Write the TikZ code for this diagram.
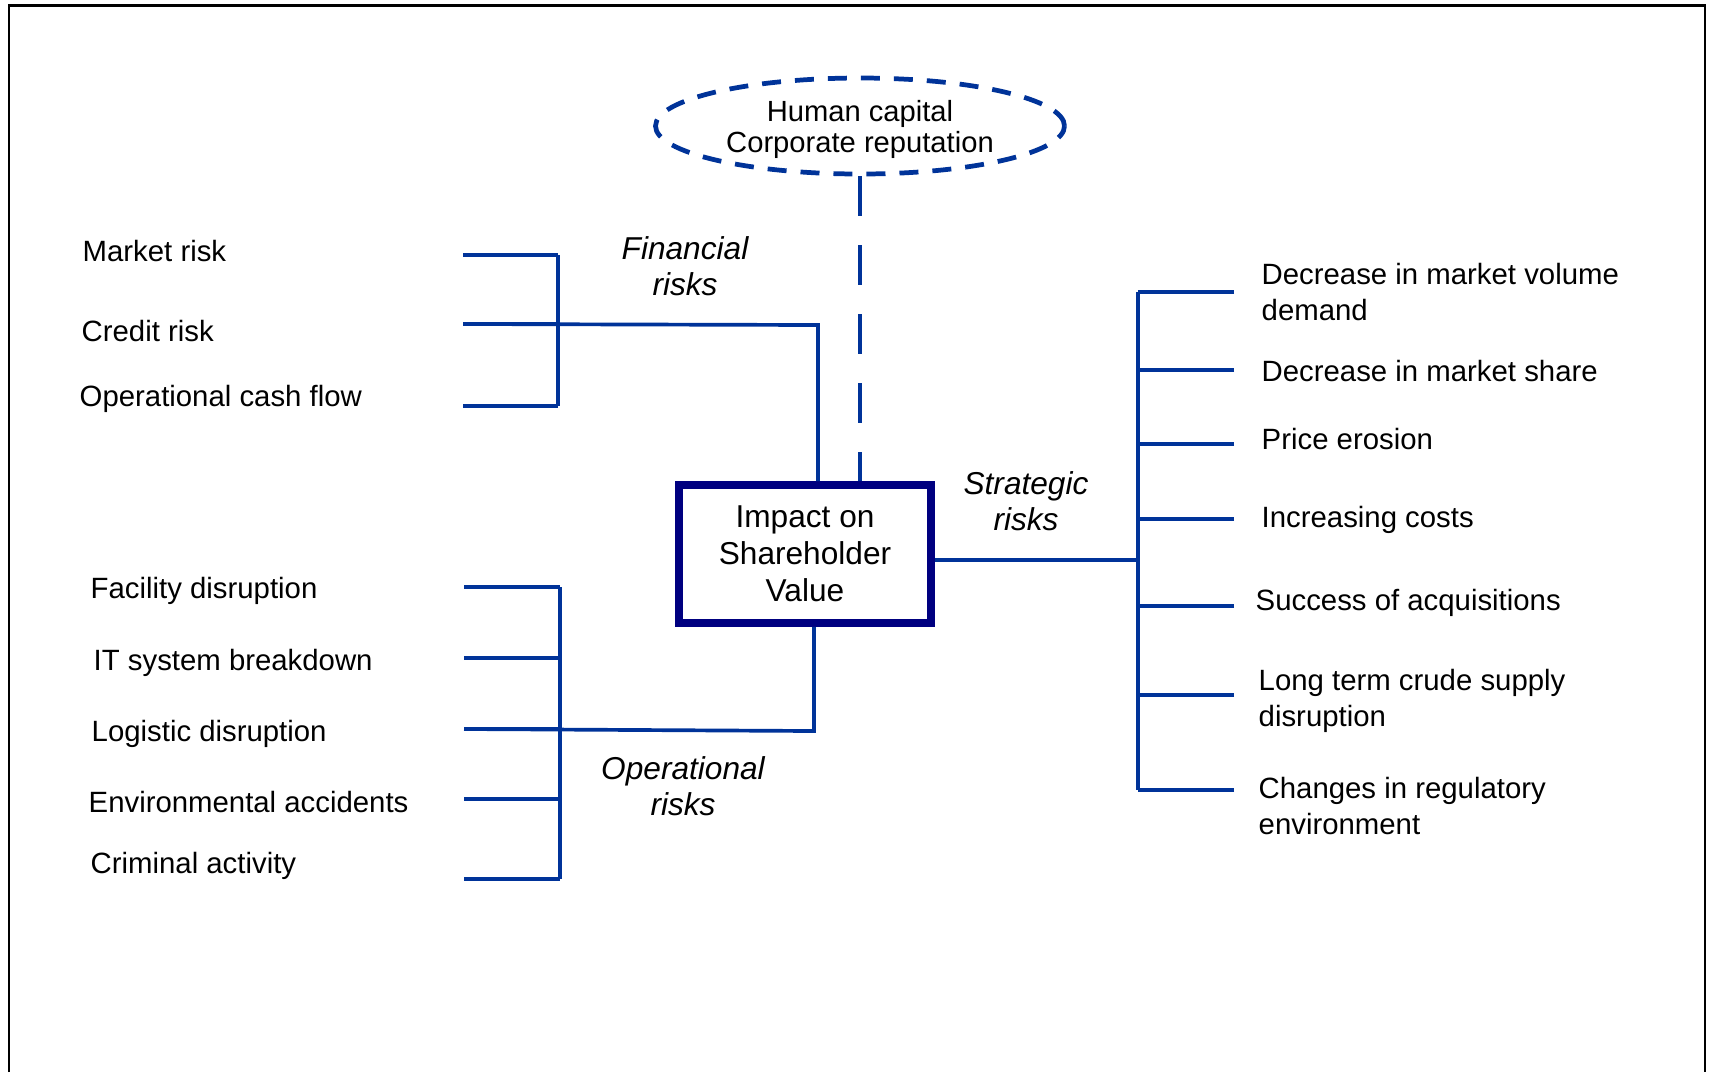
\documentclass[tikz,border=0pt]{standalone}
\usepackage{fontspec}
\setmainfont{Liberation Sans}
\usetikzlibrary{shapes.geometric}
\definecolor{riskblue}{RGB}{0,51,153}
\definecolor{valuenavy}{RGB}{0,0,128}

\begin{document}
\begin{tikzpicture}[x=0.1mm,y=-0.1mm,
  riskitem/.style={anchor=base west,inner sep=0pt,align=left,
    font=\fontsize{8.35}{10.2}\selectfont},
  riskgroup/.style={inner sep=0pt,align=center,
    font=\fontsize{9}{10.2}\selectfont\itshape},
  risklink/.style={draw=riskblue,line width=1.05pt}]
 \useasboundingbox (0,0) rectangle (1711,1072);
 \draw[line width=0.6pt] (9,1072) -- (9,5.5) -- (1705,5.5) -- (1705,1072);

 \node[draw=valuenavy,line width=2.2pt,minimum width=25.2mm,minimum height=13.8mm,
   align=center,font=\fontsize{9}{10.5}\selectfont] (value) at (805,554)
   {Impact on\\Shareholder\\Value};
 \node[ellipse,draw=riskblue,line width=1.35pt,dash pattern=on 1.9mm off 1.4mm,
   minimum width=40.9mm,minimum height=9.6mm,inner sep=0pt,align=center,
   text depth=0pt,font=\fontsize{8.3}{8.8}\selectfont] (soft) at (860,126)
   {Human capital\\Corporate reputation};
 \draw[risklink,line width=1.15pt,dash pattern=on 4mm off 2.9mm]
   (soft.south) -- (soft.south |- value.north);

 \coordinate (fin-top) at (558,255);
 \coordinate (fin-join) at (818,325);
 \foreach \n/\lx/\ly/\ty/\t in
  {mkt/82/261/255/Market risk, crd/81/341/324/Credit risk,
   ocf/79/406/406/Operational cash flow}
  {
    \node[riskitem] (\n) at (\lx,\ly) {\t};
    \coordinate (\n-tip) at (463,\ty);
    \draw[risklink] (\n-tip) -- (\n-tip -| fin-top);
  }
 \draw[risklink] (fin-top) -- (ocf-tip -| fin-top);
 \draw[risklink] (crd-tip) -- (fin-join) -- (fin-join |- value.north);
 \node[riskgroup] (fin) at (685,266) {Financial\\risks};

 \coordinate (ops-top) at (560,587);
 \coordinate (ops-join) at (814,731);
 \foreach \n/\lx/\ly/\ty/\t in
  {fac/90/598/587/Facility disruption, its/93/670/658/IT system breakdown,
   log/91/741/729/Logistic disruption, env/88/812/799/Environmental accidents,
   crm/90/873/879/Criminal activity}
  {
    \node[riskitem] (\n) at (\lx,\ly) {\t};
    \coordinate (\n-tip) at (464,\ty);
    \draw[risklink] (\n-tip) -- (\n-tip -| ops-top);
  }
 \draw[risklink] (ops-top) -- (crm-tip -| ops-top);
 \draw[risklink] (log-tip) -- (ops-join) -- (ops-join |- value.south);
 \node[riskgroup] (ops) at (683,786) {Operational\\risks};

 \coordinate (str-top) at (1138,292);
 \coordinate (str-join) at (1138,560);
 \foreach \n/\lx/\ly/\ty/\t in
  {vol/1261/320/292/Decrease in market volume\\demand,
   shr/1261/381/370/Decrease in market share,
   prc/1261/449/444/Price erosion,
   cst/1261/527/519/Increasing costs,
   acq/1255/610/606/Success of acquisitions,
   sup/1258/726/695/Long term crude supply\\disruption,
   reg/1258/834/790/Changes in regulatory\\environment}
  {
    \node[riskitem] (\n) at (\lx,\ly) {\t};
    \coordinate (\n-tip) at (1234,\ty);
    \draw[risklink] (\n-tip) -- (\n-tip -| str-top);
  }
 \draw[risklink] (str-top) -- (reg-tip -| str-top);
 \draw[risklink] (str-join -| value.east) -- (str-join);
 \node[riskgroup] (str) at (1026,501) {Strategic\\risks};
\end{tikzpicture}
\end{document}
